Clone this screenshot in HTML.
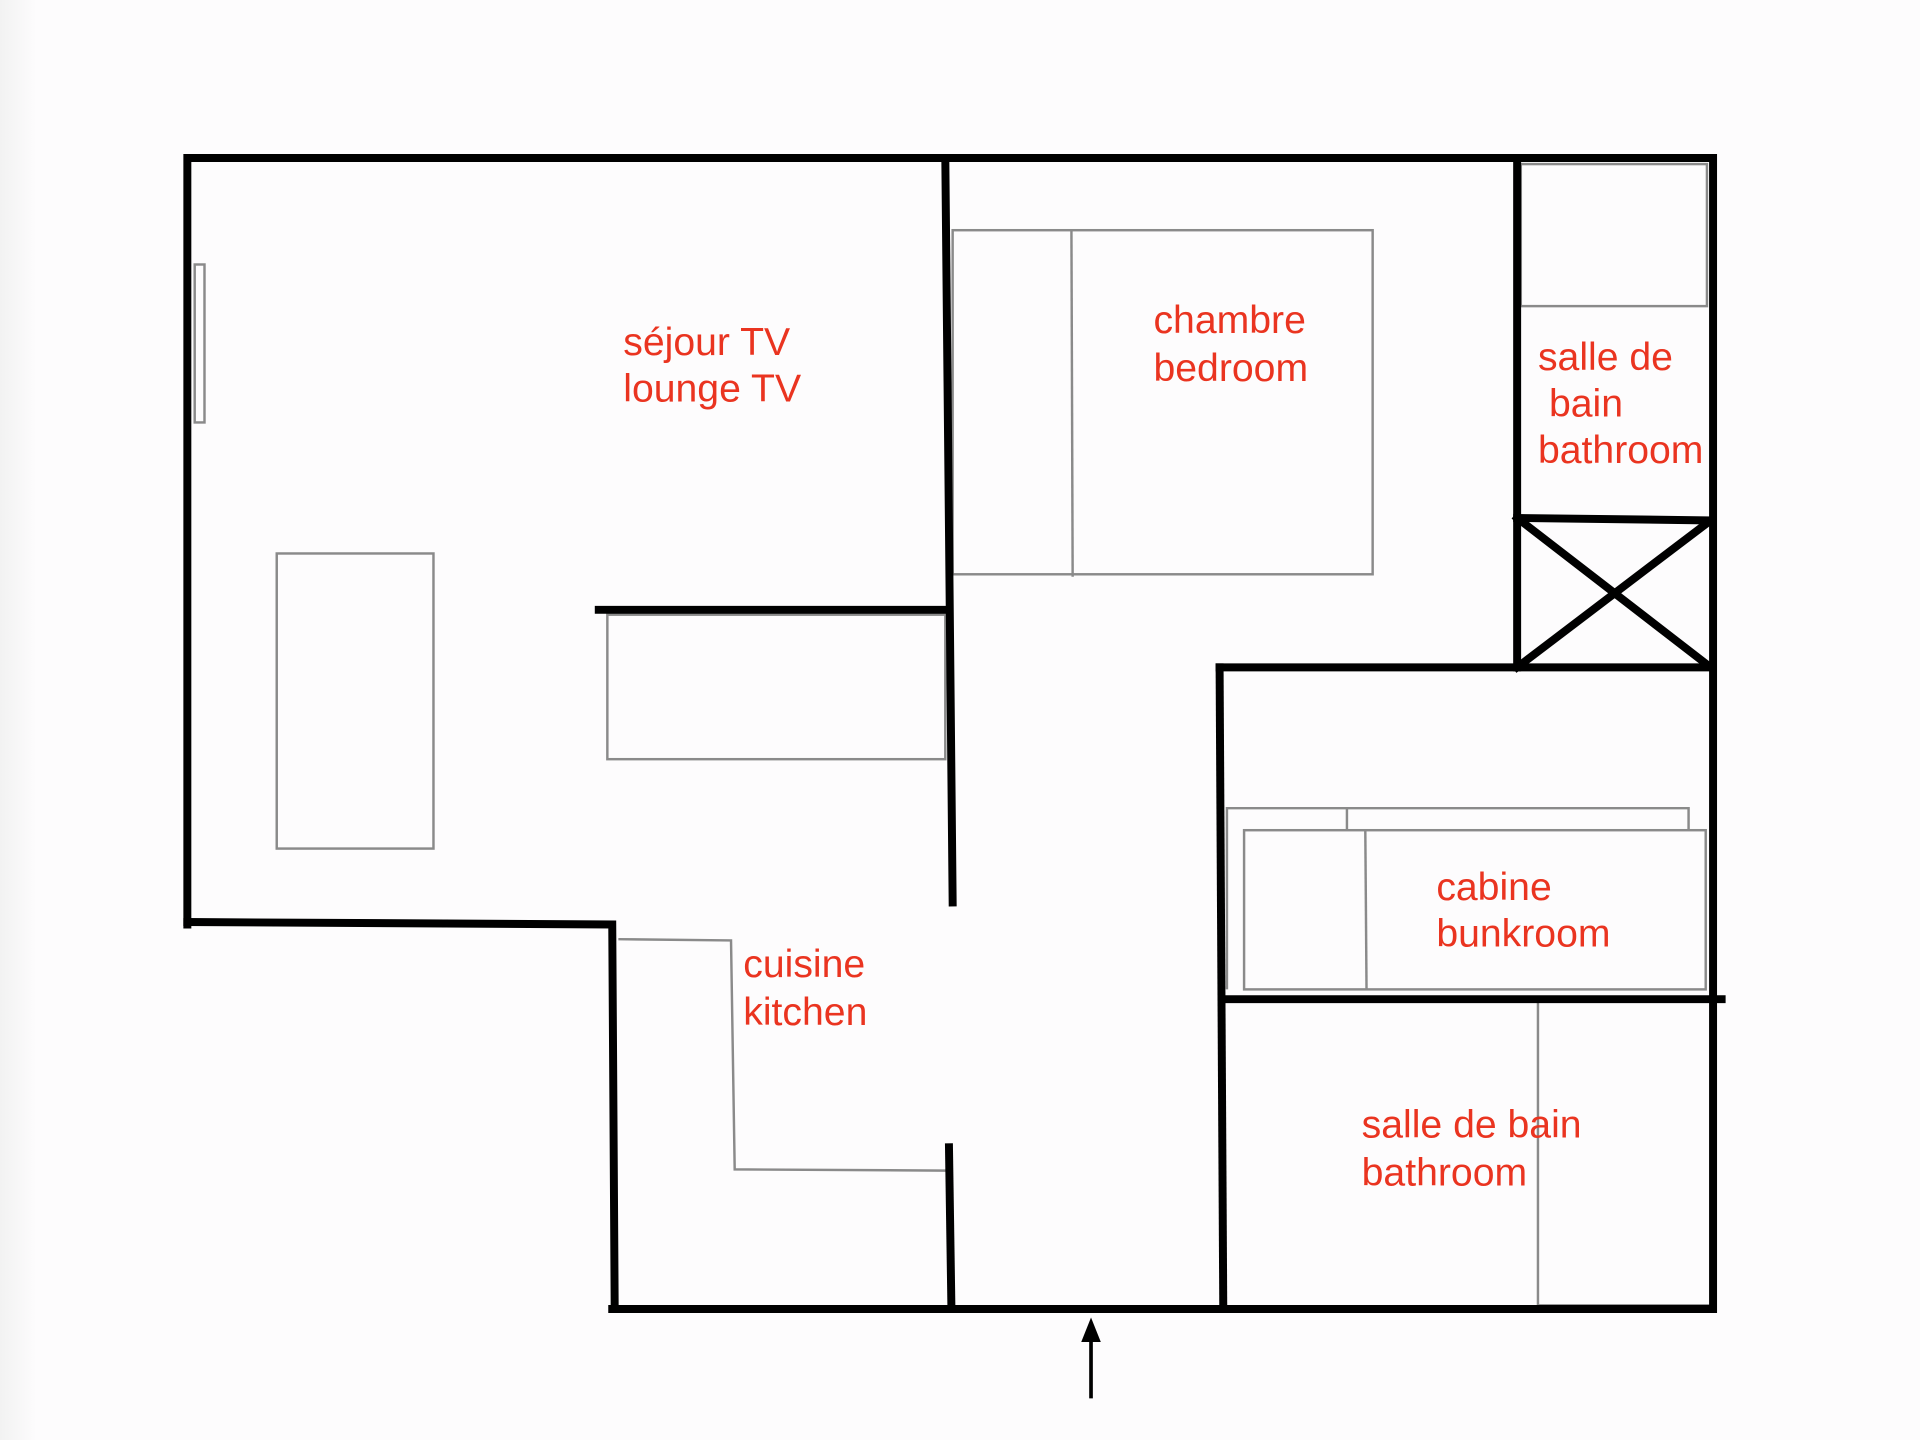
<!DOCTYPE html>
<html><head><meta charset="utf-8"><style>html,body{margin:0;padding:0;background:#fdfcfd}svg{display:block}</style></head>
<body>
<svg width="1920" height="1440" viewBox="0 0 1568 1176" xmlns="http://www.w3.org/2000/svg">
<defs><linearGradient id="lg" x1="0" x2="1"><stop offset="0" stop-color="#f2f2f2"/><stop offset="1" stop-color="#fdfcfd"/></linearGradient></defs>
<rect width="1568" height="1176" fill="#fdfcfd"/>
<rect width="30" height="1176" fill="url(#lg)"/>
<g fill="none" stroke="#8a8a8a" stroke-width="2">
<rect x="159" y="216" width="8" height="129"/>
<rect x="226" y="452" width="128" height="241"/>
<rect x="496" y="502" width="276" height="118"/>
<rect x="778" y="188" width="343" height="281"/>
<line x1="875" y1="188" x2="876" y2="471"/>
<rect x="1242" y="134" width="152" height="116"/>
<polyline points="1002,808 1002,660 1379,660 1379,678"/>
<line x1="1100" y1="660" x2="1100" y2="678"/>
<rect x="1016" y="678" width="377" height="130"/>
<line x1="1115" y1="678" x2="1116" y2="808"/>
<polyline points="505,767 597,768 600,955 773,956"/>
<polyline points="1256,818 1256,1066 1396,1066"/>
</g>
<g fill="none" stroke="#000" stroke-width="6.5" stroke-linecap="square">
<polyline points="153,755 153,129 1399,129 1399,1069 500,1069"/>
<polyline points="153,753 500,755 502,1069"/>
<line x1="772" y1="129" x2="778" y2="737"/>
<line x1="489" y1="498" x2="773" y2="498"/>
<line x1="775" y1="937" x2="777" y2="1069"/>
<line x1="1239" y1="129" x2="1239" y2="545"/>
<line x1="1239" y1="423" x2="1397" y2="425"/>
<line x1="1239" y1="423" x2="1397" y2="545"/>
<line x1="1397" y1="425" x2="1239" y2="545"/>
<line x1="996" y1="545" x2="1397" y2="545"/>
<line x1="996" y1="545" x2="999" y2="1069"/>
<line x1="999" y1="816" x2="1406" y2="816"/>
</g>
<line x1="891" y1="1142" x2="891" y2="1092" stroke="#000" stroke-width="3"/>
<polygon points="891,1076 883,1096 899,1096" fill="#000"/>
<g font-family="Liberation Sans, sans-serif" font-size="32" fill="#ea3420">
<text x="509" y="290">séjour TV</text><text x="509" y="328">lounge TV</text>
<text x="942" y="272">chambre</text><text x="942" y="311">bedroom</text>
<text x="1256" y="302">salle de</text><text x="1265" y="340">bain</text><text x="1256" y="378">bathroom</text>
<text x="1173" y="735">cabine</text><text x="1173" y="773">bunkroom</text>
<text x="607" y="798">cuisine</text><text x="607" y="837">kitchen</text>
<text x="1112" y="929">salle de bain</text><text x="1112" y="968">bathroom</text>
</g>
</svg>
</body></html>
